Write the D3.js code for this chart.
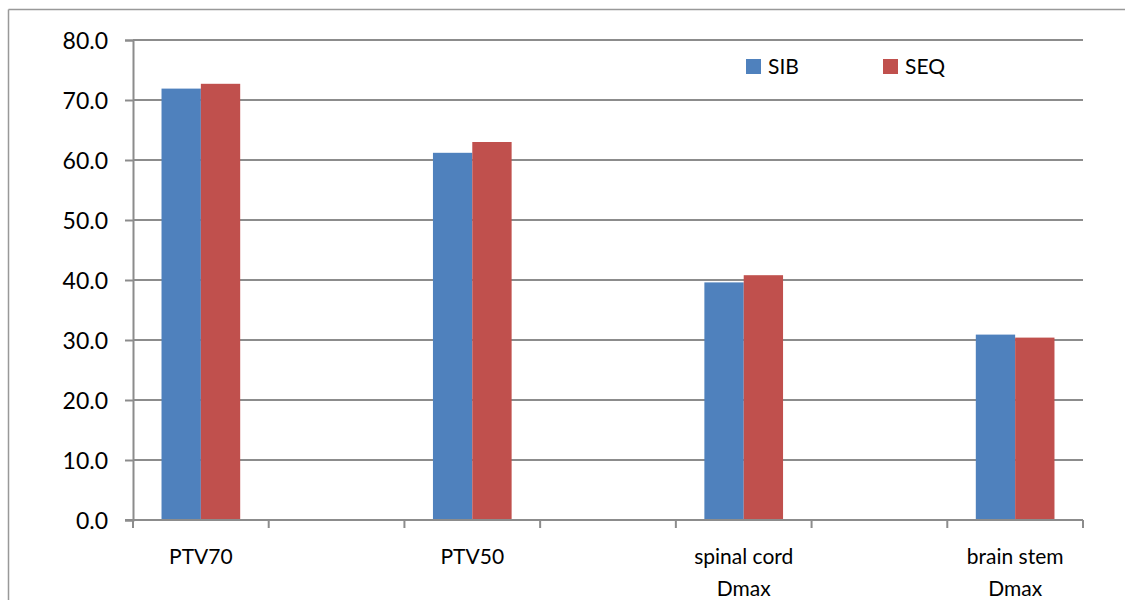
<!DOCTYPE html>
<html><head><meta charset="utf-8">
<script src="https://cdn.jsdelivr.net/npm/d3@7"></script>
<style>body{margin:0;background:#fff}svg{display:block}text{font-family:Lato,"Liberation Sans",sans-serif;fill:#000}</style>
</head><body><svg id="c" width="1125" height="600"></svg>
<script>
const categories = ["PTV70", "PTV50", "spinal cord\nDmax", "brain stem\nDmax"];
const series = ["SIB", "SEQ"];
const sibValues = [71.9, 61.2, 39.6, 30.9];
const seqValues = [72.7, 63.0, 40.8, 30.4];
const yTicks = [0, 10, 20, 30, 40, 50, 60, 70, 80];
const colors = ["#4f81bd", "#c0504d"];

const svg = d3.select("#c");
const L = 133, R = 1083, T = 40, B = 520;
// 7 slots: categories separated by empty slots
const slots = [];
categories.forEach((c, i) => { slots.push("c" + i); if (i < categories.length - 1) slots.push("g" + i); });
const x = d3.scaleBand().domain(slots).range([L, R]).padding(0);
const y = d3.scaleLinear().domain([0, 80]).range([B, T]);
const xs = d3.scaleBand().domain(series).range([0, x.bandwidth()]).paddingInner(0).paddingOuter(0.725);

// outer frame
svg.append("line").attr("x1", 8.5).attr("x2", 1125).attr("y1", 9.5).attr("y2", 9.5).attr("stroke", "#999").attr("stroke-width", 1.5);
svg.append("line").attr("x1", 8.5).attr("x2", 8.5).attr("y1", 9.5).attr("y2", 600).attr("stroke", "#999").attr("stroke-width", 1.5);

// gridlines
svg.append("g").selectAll("line").data(yTicks.filter(d => d > 0)).join("line")
  .attr("x1", L).attr("x2", R).attr("y1", d => y(d)).attr("y2", d => y(d))
  .attr("stroke", "#8c8c8c").attr("stroke-width", 2);

// bars
const data = categories.map((c, i) => ({ key: "c" + i, vals: [sibValues[i], seqValues[i]] }));
const g = svg.append("g");
data.forEach(d => {
  d.vals.forEach((v, j) => {
    g.append("rect").attr("x", x(d.key) + xs(series[j])).attr("width", xs.bandwidth())
      .attr("y", y(v)).attr("height", y(0) - y(v)).attr("fill", colors[j]);
  });
});

// y axis
const yAxis = d3.axisLeft(y).tickValues(yTicks).tickFormat(d3.format(".1f")).tickSize(8).tickPadding(17);
const ya = svg.append("g").attr("transform", `translate(${L},0)`).call(yAxis);
ya.select(".domain").attr("stroke", "#8c8c8c").attr("stroke-width", 2);
ya.selectAll(".tick line").attr("stroke", "#8c8c8c").attr("stroke-width", 2);
ya.selectAll(".tick text").attr("font-size", 23).attr("dy", "0.36em").style("font-family", "Lato, sans-serif");

// x axis
svg.append("line").attr("x1", L - 8).attr("x2", R).attr("y1", B).attr("y2", B).attr("stroke", "#8c8c8c").attr("stroke-width", 2);
const edges = slots.map(s => x(s)).concat([R]);
svg.append("g").selectAll("line").data(edges).join("line")
  .attr("x1", d => d).attr("x2", d => d).attr("y1", B).attr("y2", B + 8)
  .attr("stroke", "#8c8c8c").attr("stroke-width", 2);

// category labels
data.forEach((d, i) => {
  const t = svg.append("text").attr("text-anchor", "middle").attr("font-size", 21)
    .attr("transform", `translate(${x(d.key) + x.bandwidth() / 2},564)`);
  categories[i].split("\n").forEach((line, k) => {
    t.append("tspan").attr("x", 0).attr("y", k * 32).text(line);
  });
});

// legend
const legX = [746, 883];
series.forEach((s, j) => {
  svg.append("rect").attr("x", legX[j]).attr("y", 59).attr("width", 15).attr("height", 15).attr("fill", colors[j]);
  svg.append("text").attr("x", legX[j] + 22).attr("y", 74).attr("font-size", 21).text(s);
});
</script></body></html>
